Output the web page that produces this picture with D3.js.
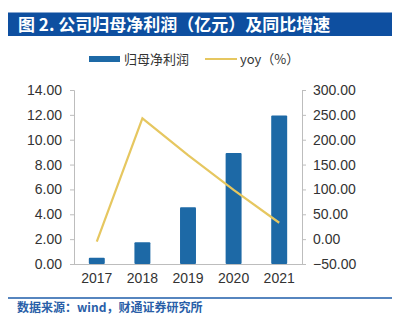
<!DOCTYPE html>
<html><head><meta charset="utf-8">
<script src="https://cdn.jsdelivr.net/npm/d3@7"></script>
<style>body{margin:0;background:#fff}svg{display:block;font-family:"Liberation Sans",Arial,"Noto Sans CJK SC",sans-serif}</style>
</head><body><svg id="c" width="397" height="330"></svg>
<script>
const years = ["2017","2018","2019","2020","2021"];
const profit = [0.51, 1.75, 4.57, 8.93, 11.95];
const yoy = [-5, 243, 169, 99, 33];
const leftTicks = [0,2,4,6,8,10,12,14];
const rightTicks = [-50,0,50,100,150,200,250,300];
const title = "图 2. 公司归母净利润（亿元）及同比增速";
const source = "数据来源：wind，财通证券研究所";
const legendNames = ["归母净利润","yoy（%）"];

const svg = d3.select("#c");
const barColor = "#1D69A6", lineColor = "#E6C760", axisColor = "#BDBDBD", textColor = "#333";
const L = 74, R = 302, T = 90, B = 264;

svg.append("rect").attr("x",8).attr("y",12.5).attr("width",384).attr("height",23.5).attr("fill","#0E4FA0");
svg.append("text").attr("x",18).attr("y",30.5).attr("fill","#fff").attr("font-size",17).attr("font-weight","bold")
  .attr("font-family","'Noto Sans CJK SC',sans-serif").text(title);

const x = d3.scaleBand().domain(years).range([L,R]).paddingInner(0.65).paddingOuter(0.325);
const yL = d3.scaleLinear().domain([0,14]).range([B,T]);
const yR = d3.scaleLinear().domain([-50,300]).range([B,T]);

// bars
svg.append("g").selectAll("rect").data(years).join("rect")
  .attr("x",d=>x(d)).attr("width",x.bandwidth())
  .attr("y",(d,i)=>yL(profit[i])).attr("height",(d,i)=>B-yL(profit[i]))
  .attr("fill",barColor).attr("rx",1);

// axes
const fmt = d3.format(".2f");
const gl = svg.append("g").attr("transform",`translate(${L},0)`)
  .call(d3.axisLeft(yL).tickValues(leftTicks).tickFormat(fmt).tickSize(4).tickPadding(8));
const gr = svg.append("g").attr("transform",`translate(${R},0)`)
  .call(d3.axisRight(yR).tickValues(rightTicks).tickFormat(d=>fmt(d).replace("-","\u2212")).tickSize(4).tickPadding(7));
const gb = svg.append("g").attr("transform",`translate(0,${B})`)
  .call(d3.axisBottom(x).tickSize(0).tickPadding(9));
[gl,gr,gb].forEach(g=>{
  g.selectAll("path").attr("stroke",axisColor);
  g.selectAll("line").attr("stroke",axisColor);
  g.selectAll("text").attr("fill",textColor).attr("font-size",14).attr("font-family","'Liberation Sans',Arial,sans-serif");
});
gb.select("path").attr("d",`M${L},0.5H${R}`);

// line
svg.append("path").datum(yoy)
  .attr("d",d3.line().x((d,i)=>x(years[i])+x.bandwidth()/2).y(d=>yR(d)))
  .attr("fill","none").attr("stroke",lineColor).attr("stroke-width",2.2);

// legend
svg.append("rect").attr("x",89).attr("y",56).attr("width",31).attr("height",6).attr("fill",barColor);
svg.append("text").attr("x",124).attr("y",63.5).attr("font-size",13).attr("fill",textColor)
  .attr("font-family","'Noto Sans CJK SC',sans-serif").text(legendNames[0]);
svg.append("line").attr("x1",205).attr("x2",237).attr("y1",59).attr("y2",59).attr("stroke",lineColor).attr("stroke-width",2);
svg.append("text").attr("x",240).attr("y",63.5).attr("font-size",13).attr("fill",textColor)
  .attr("font-family","'Noto Sans CJK SC',sans-serif").text(legendNames[1]);

// footer
svg.append("line").attr("x1",8).attr("x2",392).attr("y1",298).attr("y2",298).attr("stroke","#1E5DAA").attr("stroke-width",1.5);
svg.append("text").attr("x",17).attr("y",311.5).attr("font-size",12).attr("font-weight","bold").attr("fill","#2A5FA8")
  .attr("font-family","'Noto Sans CJK SC',sans-serif").text(source);
</script></body></html>
